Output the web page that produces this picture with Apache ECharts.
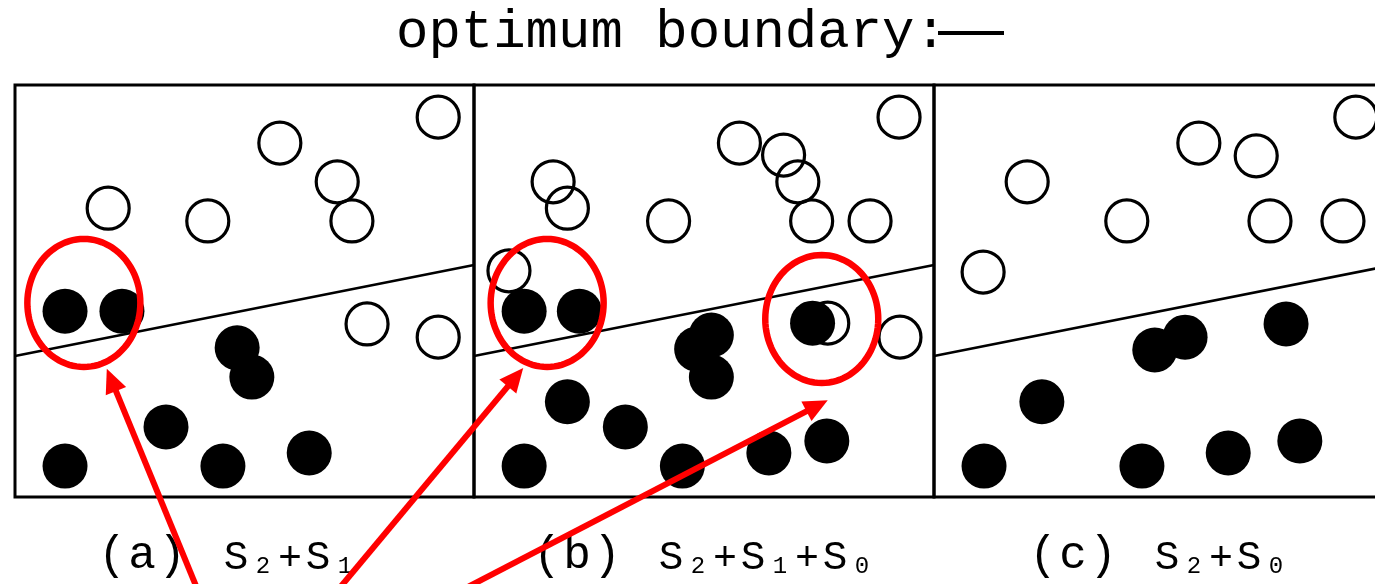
<!DOCTYPE html>
<html>
<head>
<meta charset="utf-8">
<script src="https://cdn.jsdelivr.net/npm/echarts@6/dist/echarts.min.js"></script>
<style>
  html, body { margin: 0; padding: 0; background: #ffffff; }
  #chart { width: 1375px; height: 584px; }
</style>
</head>
<body>
<div id="chart"></div>
<script>
// ---- data (panel coordinates: x 0..100 left->right, y 0..100 bottom->top) ----
const panelTags = ['(a)', '(b)', '(c)'];
const sumIndexA = ['2', '1'];
const sumIndexB = ['2', '1', '0'];
const sumIndexC = ['2', '0'];

// optimum boundary (same separating line in every panel)
const boundary = [[0, 34.2], [100, 56.3]];

// class 1 samples (open circles) and class 2 samples (filled circles)
const openA = [[92.2, 92.2], [57.7, 85.9], [70.2, 76.5], [20.3, 70.1], [42.0, 67.0], [73.4, 67.0], [76.7, 42.0], [92.2, 38.8]];
const filledA = [[10.9, 45.1], [23.3, 45.1], [48.4, 36.2], [51.6, 29.1], [32.9, 17.0], [10.9, 7.5], [45.3, 7.5], [64.1, 10.7]];

const openB = [[92.4, 92.2], [57.7, 85.9], [67.3, 83.0], [70.4, 76.5], [17.2, 76.5], [20.3, 70.1], [42.3, 67.0], [73.4, 67.0], [86.1, 67.0], [7.6, 54.9], [76.9, 42.2], [92.6, 38.8]];
const filledB = [[10.9, 45.1], [22.9, 45.1], [51.6, 39.3], [48.4, 35.9], [51.6, 29.1], [20.3, 23.1], [32.9, 17.0], [10.9, 7.5], [45.3, 7.5], [64.1, 10.7], [76.7, 13.6], [73.6, 42.2]];

const openC = [[91.9, 92.2], [57.7, 85.9], [70.2, 82.8], [20.3, 76.5], [42.0, 67.0], [73.2, 67.0], [89.1, 67.0], [10.7, 54.6]];
const filledC = [[54.7, 38.8], [48.1, 35.7], [76.7, 42.0], [23.5, 23.1], [10.9, 7.5], [45.3, 7.5], [64.1, 10.7], [79.7, 13.6]];

// highlighted groups: [panel, x, y]
const highlights = [[0, 15.0, 47.1], [1, 15.9, 47.1], [1, 75.6, 43.2]];
// pointer arrows: [panel, tipX, tipY, tailX, tailY]
const pointers = [[0, 20.0, 31.1, 40.7, -25.0], [1, 10.7, 31.3, -31.4, -25.0], [1, 76.9, 23.5, -6.8, -25.0]];

const sumIndex = [sumIndexA, sumIndexB, sumIndexC];
const openSets = [openA, openB, openC];
const filledSets = [filledA, filledB, filledC];

// ---- layout ----
const panelLeft = [15, 474, 934];
const panelWidth = [459, 460, 459];
const panelTop = 85;
const panelHeight = 412;
const MONO = '"Liberation Mono", "DejaVu Sans Mono", monospace';

const chart = echarts.init(document.getElementById('chart'), null, { renderer: 'canvas' });

const grids = panelLeft.map((l, i) => ({
  left: l, top: panelTop, width: panelWidth[i], height: panelHeight,
  show: true, borderColor: '#000', borderWidth: 3, backgroundColor: 'transparent',
  containLabel: false, outerBoundsMode: 'none'
}));
const xAxes = panelLeft.map((l, i) => ({ type: 'value', gridIndex: i, min: 0, max: 100, show: false }));
const yAxes = panelLeft.map((l, i) => ({ type: 'value', gridIndex: i, min: 0, max: 100, show: false }));

const series = [];
panelLeft.forEach((l, i) => {
  series.push({
    type: 'line', xAxisIndex: i, yAxisIndex: i, data: boundary,
    symbol: 'none', lineStyle: { color: '#000', width: 2.5 }, z: 1, silent: true
  });
  series.push({
    type: 'scatter', xAxisIndex: i, yAxisIndex: i, data: openSets[i],
    symbol: 'circle', symbolSize: 42, z: 2, silent: true,
    itemStyle: { color: 'rgba(0,0,0,0)', borderColor: '#000', borderWidth: 3.2, opacity: 1 }
  });
  series.push({
    type: 'scatter', xAxisIndex: i, yAxisIndex: i, data: filledSets[i],
    symbol: 'circle', symbolSize: 45, z: 3, silent: true,
    itemStyle: { color: '#000', opacity: 1 }
  });
});

// panel caption, e.g. (a)  S2+S1 with subscript digits
function captionText(tag, subs) {
  let s = '{p|' + tag[0] + '}{p|' + tag[1] + '}{p|' + tag[2] + '}{gap| }';
  subs.forEach((d, k) => {
    if (k > 0) s += '{op|+}';
    s += '{S|S}{d|' + d + '}';
  });
  return s;
}
const captionRich = {
  p:   { fontFamily: MONO, fontSize: 46, width: 30, align: 'center', lineHeight: 41, verticalAlign: 'bottom', fill: '#000' },
  gap: { fontFamily: MONO, fontSize: 40, width: 35, lineHeight: 42, verticalAlign: 'bottom' },
  S:   { fontFamily: MONO, fontSize: 41, width: 28, align: 'center', lineHeight: 42.4, verticalAlign: 'bottom', fill: '#000' },
  op:  { fontFamily: MONO, fontSize: 40, width: 28, align: 'center', lineHeight: 42.4, verticalAlign: 'bottom', fill: '#000' },
  d:   { fontFamily: MONO, fontSize: 24, width: 26, align: 'center', lineHeight: 43, verticalAlign: 'bottom', fill: '#000' }
};
const captionLeft = [97, 532, 1028];

const staticGraphics = [
  {
    type: 'text', x: 396, y: 33, z: 10,
    style: { text: 'optimum boundary:', fontFamily: MONO, fontSize: 54, fill: '#000', align: 'left', verticalAlign: 'middle' }
  },
  {
    type: 'line', z: 10,
    shape: { x1: 938, y1: 33, x2: 1004, y2: 33 },
    style: { stroke: '#000', lineWidth: 4 }
  }
];
panelTags.forEach((t, i) => {
  staticGraphics.push({
    type: 'text', x: captionLeft[i], y: 579, z: 10,
    style: { text: captionText(t, sumIndex[i]), rich: captionRich, align: 'left', verticalAlign: 'bottom', fill: '#000' }
  });
});

chart.setOption({
  animation: false,
  backgroundColor: '#ffffff',
  grid: grids,
  xAxis: xAxes,
  yAxis: yAxes,
  series: series,
  graphic: staticGraphics
});

// ---- red annotations, placed through each panel's coordinate system ----
const RED = '#ff0000';
const ringRx = 56.5, ringRy = 64, ringWidth = 6.5;
const headLen = 24, headHalf = 11, shaftWidth = 6;

function toPx(panel, pt) {
  return chart.convertToPixel({ gridIndex: panel }, pt);
}

const notes = [];
highlights.forEach(h => {
  const c = toPx(h[0], [h[1], h[2]]);
  const pts = [];
  for (let k = 0; k < 96; k++) {
    const a = (k / 96) * Math.PI * 2;
    pts.push([c[0] + ringRx * Math.cos(a), c[1] + ringRy * Math.sin(a)]);
  }
  notes.push({
    type: 'polygon', z: 20,
    shape: { points: pts },
    style: { fill: 'none', stroke: RED, lineWidth: ringWidth }
  });
});

pointers.forEach(p => {
  const tip = toPx(p[0], [p[1], p[2]]);
  const tail = toPx(p[0], [p[3], p[4]]);
  const dx = tip[0] - tail[0], dy = tip[1] - tail[1];
  const len = Math.sqrt(dx * dx + dy * dy);
  const ux = dx / len, uy = dy / len;
  const bx = tip[0] - ux * headLen, by = tip[1] - uy * headLen;
  notes.push({
    type: 'line', z: 20,
    shape: { x1: tail[0], y1: tail[1], x2: bx + ux * 2, y2: by + uy * 2 },
    style: { stroke: RED, lineWidth: shaftWidth }
  });
  notes.push({
    type: 'polygon', z: 20,
    shape: { points: [[tip[0], tip[1]], [bx - uy * headHalf, by + ux * headHalf], [bx + uy * headHalf, by - ux * headHalf]] },
    style: { fill: RED }
  });
});

chart.setOption({ graphic: staticGraphics.concat(notes) });
</script>
</body>
</html>
